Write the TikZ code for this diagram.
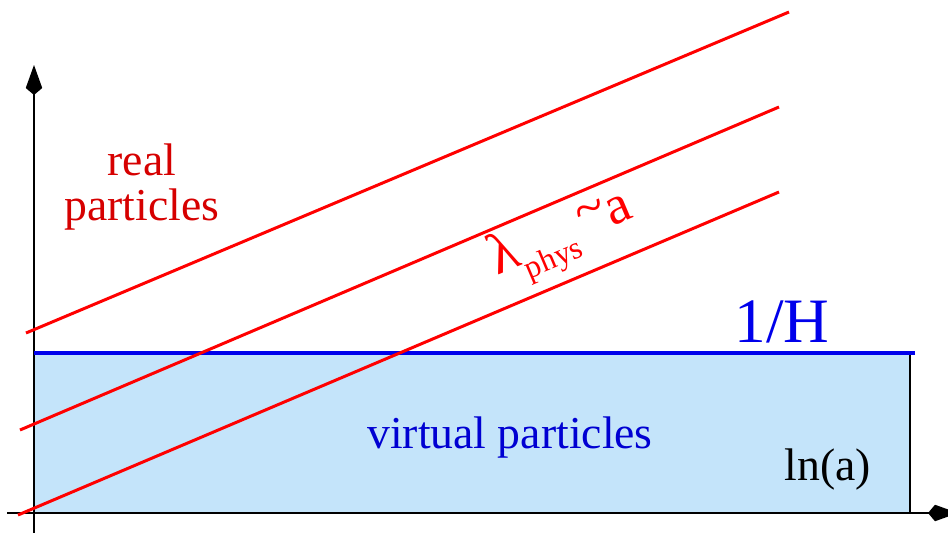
\documentclass[tikz,border=0pt]{standalone}
\usepackage{fontspec}
\setmainfont{Liberation Serif}
\usetikzlibrary{arrows.meta}
\definecolor{linered}{RGB}{255,0,0}
\definecolor{textred}{RGB}{214,0,0}
\definecolor{hblue}{RGB}{0,0,235}
\definecolor{textblue}{RGB}{0,0,210}
\definecolor{virtfill}{RGB}{196,228,250}

\begin{document}
\begin{tikzpicture}[x=0.02cm, y=-0.02cm,
  axis/.style={line width=1.1pt, -{Kite[length=0.6cm, width=0.33cm, inset=0.14cm]}},
  wline/.style={draw=linered, line width=1.7pt},
  hline/.style={draw=hblue, line width=2.3pt},
  lbl/.style={font=\fontsize{26}{26}\selectfont, align=center, inner sep=0pt}
]
\useasboundingbox (0,0) rectangle (948,532);

% virtual region below the horizon
\fill[virtfill] (34,353) rectangle (910,513);
\draw[line width=1.6pt] (910,353) -- (910,513);

% axes
\draw[axis] (34,540) -- (34,65);
\draw[axis] (7,513) -- (958,513);

% horizon 1/H
\draw[hline] (34,353) -- (915,353);

% physical wavelengths
\draw[wline] (26,333) -- (789,12);
\draw[wline] (20,430) -- (779,107);
\draw[wline] (18,515) -- (779,192);

\node[lbl, text=textred] (real) at (142,187) {real\\particles};
\node[lbl, text=textblue] (virt) at (510,438) {virtual particles};
\node[lbl, text=hblue, font=\fontsize{36}{36}\selectfont] (hub) at (782,322) {1/H};
\node[lbl] (lna) at (828,470) {ln(a)};
\node[lbl, text=linered, rotate=23] (lam) at (563,238)
  {{\fontsize{33}{33}\selectfont λ}{\fontsize{18}{18}\selectfont\raisebox{-0.5em}{phys}}\,{\fontsize{31}{31}\selectfont\raisebox{0.15em}{\textasciitilde}a}};
\end{tikzpicture}
\end{document}
